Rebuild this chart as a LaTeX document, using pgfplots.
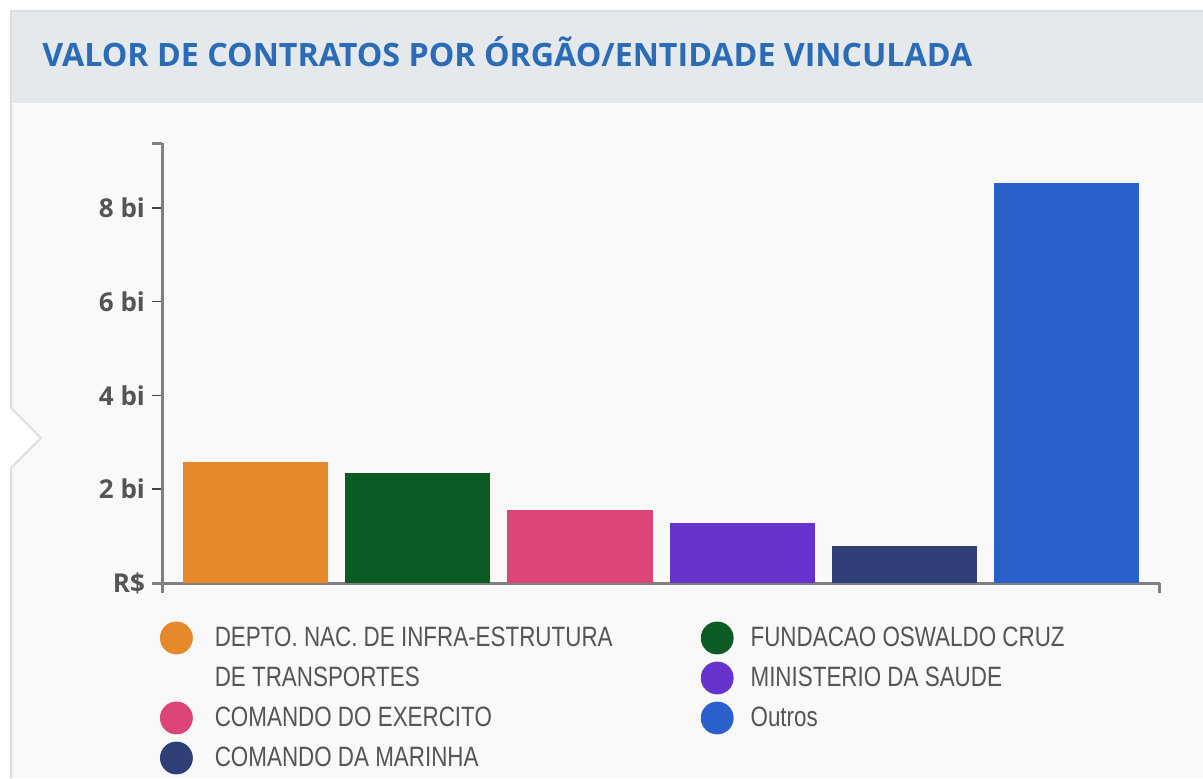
\documentclass[border=0pt]{standalone}
\usepackage{fontspec}
\usepackage{pgfplots}
\pgfplotsset{compat=1.18}
\setmainfont{Open Sans}
\newfontfamily\legfont[FakeStretch=0.8]{Liberation Sans}
\definecolor{cOrange}{HTML}{E5892A}
\definecolor{cGreen}{HTML}{0C5A24}
\definecolor{cPink}{HTML}{DD4577}
\definecolor{cPurple}{HTML}{6633CC}
\definecolor{cNavy}{HTML}{313F78}
\definecolor{cBlue}{HTML}{2A5FCC}
\definecolor{axgray}{HTML}{808080}
\definecolor{tickdark}{HTML}{444444}
\definecolor{labgray}{HTML}{555555}
\definecolor{titleblue}{HTML}{2B6CB8}
\definecolor{headbg}{HTML}{E6E9EC}
\definecolor{bodybg}{HTML}{F9F9F9}
\definecolor{borderc}{HTML}{DEDEDE}
\pgfplotsset{dotleg/.style={legend image code/.code={\fill[##1] (8pt,0pt) circle (8pt);}}}
\begin{document}
\begin{tikzpicture}[x=0.5pt,y=0.5pt]
\fill[white] (0,0) rectangle (1203,778);
\fill[bodybg] (11,0) rectangle (1203,675);
\fill[headbg] (11,675) rectangle (1203,767);
\fill[white] (11,310) -- (41,340) -- (11,370) -- cycle;
\draw[borderc, line width=1pt] (11,0) -- (11,310) -- (41,340) -- (11,370) -- (11,767) -- (1203,767);
\node[anchor=base west, inner sep=0pt, text=titleblue, font=\fontsize{16.1}{19}\selectfont\bfseries] at (42,711) {VALOR DE CONTRATOS POR ÓRGÃO/ENTIDADE VINCULADA};
\coordinate (O) at (162,195);
\begin{axis}[
  at={(O)}, anchor=south west,
  scale only axis, width=499pt, height=220pt,
  xmin=-0.58, xmax=5.58, ymin=0, ymax=9.38,
  axis x line*=bottom, axis y line*=left,
  axis line style={axgray, line width=1.5pt},
  tick align=outside,
  major tick length=5pt,
  ytick={2,4,6,8}, yticklabels={2 bi,4 bi,6 bi,8 bi},
  major tick style={tickdark, line width=0.8pt},
  yticklabel style={font=\fontsize{13}{15}\selectfont\bfseries, text=labgray},
  extra y ticks={0,9.379}, extra y tick labels={R\$,{}},
  extra y tick style={major tick style={axgray, line width=1.5pt}},
  xtick={-0.5799,5.5799}, xticklabels={,},
  x tick style={axgray, line width=1.5pt},
  legend columns=2,
  legend cell align=left,
  legend style={draw=none, fill=none, inner sep=0pt, outer sep=0pt,
    at={(axis description cs:-0.002,-0.0795)}, anchor=north west,
    column sep=11pt, row sep=0pt,
    nodes={inner sep=0pt, minimum height=20pt},
    font=\legfont\fontsize{14}{16}\selectfont, text=labgray},
]
\addplot[ybar, bar shift=0pt, bar width=0.895, fill=cOrange, draw=none, forget plot] coordinates {(0,2.58)};
\addplot[ybar, bar shift=0pt, bar width=0.895, fill=cGreen, draw=none, forget plot] coordinates {(1,2.35)};
\addplot[ybar, bar shift=0pt, bar width=0.895, fill=cPink, draw=none, forget plot] coordinates {(2,1.56)};
\addplot[ybar, bar shift=0pt, bar width=0.895, fill=cPurple, draw=none, forget plot] coordinates {(3,1.28)};
\addplot[ybar, bar shift=0pt, bar width=0.895, fill=cNavy, draw=none, forget plot] coordinates {(4,0.79)};
\addplot[ybar, bar shift=0pt, bar width=0.895, fill=cBlue, draw=none, forget plot] coordinates {(5,8.53)};
\addlegendimage{dotleg, cOrange}
\addlegendentry{\makebox[232pt][l]{DEPTO. NAC. DE INFRA-ESTRUTURA}}
\addlegendimage{dotleg, cGreen}
\addlegendentry{\hspace*{-2.5pt}FUNDACAO OSWALDO CRUZ}
\addlegendimage{empty legend}
\addlegendentry{\makebox[232pt][l]{DE TRANSPORTES}}
\addlegendimage{dotleg, cPurple}
\addlegendentry{\hspace*{-2.5pt}MINISTERIO DA SAUDE}
\addlegendimage{dotleg, cPink}
\addlegendentry{\makebox[232pt][l]{COMANDO DO EXERCITO}}
\addlegendimage{dotleg, cBlue}
\addlegendentry{\hspace*{-2.5pt}Outros}
\addlegendimage{dotleg, cNavy}
\addlegendentry{\makebox[232pt][l]{COMANDO DA MARINHA}}
\end{axis}
\pgfresetboundingbox
\useasboundingbox (0,0) rectangle (1203,778);
\end{tikzpicture}
\end{document}
